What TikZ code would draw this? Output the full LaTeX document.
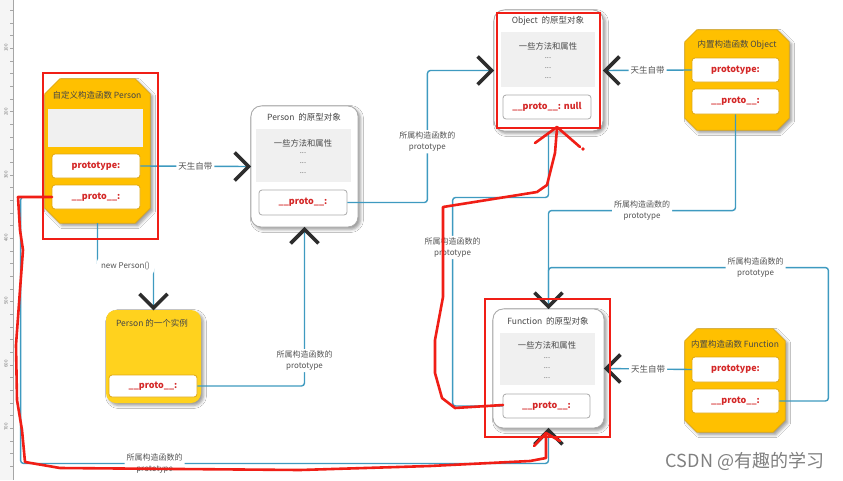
\documentclass[tikz,border=0pt]{standalone}
\usepackage{fontspec}
\setmainfont{Noto Sans CJK SC}
\usetikzlibrary{calc,shadows.blur}
\definecolor{tealc}{RGB}{62,154,192}
\definecolor{chevc}{RGB}{45,45,45}
\definecolor{lblc}{RGB}{85,85,85}
\definecolor{titc}{RGB}{70,70,70}
\definecolor{octy}{RGB}{255,192,0}
\definecolor{octb}{RGB}{222,168,20}
\definecolor{insty}{RGB}{255,210,30}
\definecolor{grayb}{RGB}{170,170,170}
\definecolor{grayf}{RGB}{240,240,240}
\definecolor{redt}{RGB}{212,40,40}
\definecolor{redann}{RGB}{240,30,22}
\tikzset{
 conn/.style={draw=tealc, line width=1.4pt, rounded corners=3pt},
 chevs/.style={draw=chevc, line width=3.6pt},
 lbl/.style={fill=white, text=lblc, font=\fontsize{8}{10.5}\selectfont, align=center, inner sep=2pt},
 wh/.style 2 args={minimum width=#1pt, minimum height=#2pt},
 anchorbox/.style={draw=none, fill=none, inner sep=0pt},
 shad/.style={blur shadow={shadow xshift=2.5pt, shadow yshift=-2.5pt, shadow blur radius=3pt, shadow opacity=40}},
 octs/.style={fill=octy, draw=octb, line width=0.8pt, shad},
 robox/.style={fill=white, draw=grayb, line width=0.9pt, rounded corners=10pt, inner sep=0pt, shad},
 inst/.style={fill=insty, draw=none, rounded corners=10pt, inner sep=0pt, shad},
 grayarea/.style={fill=grayf, draw=none, inner sep=0pt},
 ybox/.style={fill=white, draw=octb, line width=0.8pt, rounded corners=3pt, text=redt, font=\bfseries\fontsize{9}{10}\selectfont, inner sep=0pt},
 gbox/.style={ybox, draw=grayb},
 ttl/.style={text=titc, font=\fontsize{8.5}{10}\selectfont, inner sep=0pt},
 bodyt/.style={text=titc, font=\fontsize{8.3}{10}\selectfont, inner sep=0pt},
 dotst/.style={text=black!55, font=\fontsize{7.5}{8}\selectfont, inner sep=0pt},
 redline/.style={draw=redann, line width=2.6pt, line join=round, line cap=round},
 pics/chev/.style={code={\draw[chevs] (-16,-14) -- (-2,0) -- (-16,14);}},
}
\newcommand\octa[2]{\path[octs] ($(#1.north west)+(#2,0)$) -- ($(#1.north east)+(-#2,0)$) -- ($(#1.north east)+(0,#2)$) -- ($(#1.south east)+(0,-#2)$) -- ($(#1.south east)+(-#2,0)$) -- ($(#1.south west)+(#2,0)$) -- ($(#1.south west)+(0,-#2)$) -- ($(#1.north west)+(0,#2)$) -- cycle;}
\begin{document}
\begin{tikzpicture}[x=1pt,y=-1pt]
\useasboundingbox (0,0) rectangle (843,480);
\fill[white] (0,0) rectangle (843,480);
% ruler
\fill[black!4] (0,0) rectangle (13,480);
\draw[black!35, line width=0.6pt] (13,0) -- (13,480);
\foreach \k in {0,...,38} {\draw[black!35, line width=0.4pt] (10,{-15+12.66*\k}) -- (13,{-15+12.66*\k});}
\foreach \v/\yy in {100/48,200/112,300/175,400/238,500/301,600/364,700/427}
 {\node[rotate=90, text=black!55, font=\fontsize{4.5}{5}\selectfont, inner sep=0pt] (r\v) at (6,\yy) {\v};}

% ---------- Person constructor
\node[anchorbox, wh={105}{144}] (pc) at (97.5,151) {};
\octa{pc}{15}
\node[ttl] (pct) at (97,95.5) {自定义构造函数 Person};
\node[grayarea, wh={95}{38}] (pcg) at (95.5,127.5) {};
\node[ybox, wh={88}{24}] (pcp) at (96,166) {prototype:};
\node[ybox, wh={88}{24}] (pcu) at (96,197) {\_\_proto\_\_:};

% ---------- Person prototype object
\node[robox, wh={107}{121}] (ppo) at (304.5,166.5) {};
\node[ttl] (ppot) at (304,117) {Person\ \ 的原型对象};
\node[grayarea, wh={95}{53}] (ppog) at (303.5,155.5) {};
\node[bodyt] (ppob) at (303,143) {一些方法和属性};
\node[dotst] (ppod1) at (303,153) {...};
\node[dotst] (ppod2) at (303,163) {...};
\node[dotst] (ppod3) at (303,173) {...};
\node[gbox, wh={88}{25}] (ppu) at (303,202.5) {\_\_proto\_\_:};

% ---------- Object prototype object
\node[robox, wh={109}{121}] (opo) at (548.5,70.5) {};
\node[ttl] (opot) at (548,21) {Object\ \ 的原型对象};
\node[grayarea, wh={94}{55}] (opog) at (548,59.5) {};
\node[bodyt] (opob) at (548,46) {一些方法和属性};
\node[dotst] (opod1) at (548,58) {...};
\node[dotst] (opod2) at (548,68) {...};
\node[dotst] (opod3) at (548,78) {...};
\node[gbox, wh={88}{24}] (opu) at (547,107) {\_\_proto\_\_: null};

% ---------- Object constructor
\node[anchorbox, wh={104}{100}] (oc) at (737,80) {};
\octa{oc}{12}
\node[ttl] (oct) at (737,45) {内置构造函数 Object};
\node[ybox, wh={87}{24}] (ocp) at (735.5,70) {prototype:};
\node[ybox, wh={87}{25}] (ocu) at (735.5,101.5) {\_\_proto\_\_:};

% ---------- Function prototype object
\node[robox, wh={111}{119}] (fpo) at (548.5,368.5) {};
\node[ttl] (fpot) at (548,321) {Function\ \ 的原型对象};
\node[grayarea, wh={95}{52}] (fpog) at (547.5,359) {};
\node[bodyt] (fpob) at (547,345) {一些方法和属性};
\node[dotst] (fpod1) at (547,358) {...};
\node[dotst] (fpod2) at (547,368) {...};
\node[dotst] (fpod3) at (547,378) {...};
\node[gbox, wh={87}{24}] (fpu) at (546.5,406) {\_\_proto\_\_:};

% ---------- Function constructor
\node[anchorbox, wh={100}{103}] (fc) at (735,380.5) {};
\octa{fc}{12}
\node[ttl] (fct) at (735,344) {内置构造函数 Function};
\node[ybox, wh={87}{25}] (fcp) at (735.5,369.5) {prototype:};
\node[ybox, wh={87}{24}] (fcu) at (735.5,401) {\_\_proto\_\_:};

% ---------- Person instance
\node[inst, wh={95}{93}] (pi) at (153.5,356.5) {};
\node[ttl] (pit) at (152,323) {Person 的一个实例};
\node[ybox, wh={88}{22}] (piu) at (153,386) {\_\_proto\_\_:};

% ---------- connectors
\draw[conn] (pcp.east) -- node[lbl, font=\fontsize{8.5}{10}\selectfont]{天生自带} (ppo.west);
\pic at (ppo.west) {chev};

\draw[conn] (pc.south) -- ++(0,43) -| node[lbl, pos=0.25, inner sep=4pt]{new Person()} (pi.north);
\pic[rotate=-90] at (pi.north) {chev};

\draw[conn] (piu.east) -| node[lbl, pos=0.58]{所属构造函数的\\prototype} (ppo.south);
\pic[rotate=90] at (ppo.south) {chev};

\draw[conn] (ppu.east) -- ++(80,0) |- node[lbl, pos=0.23]{所属构造函数的\\prototype} (opo.west);
\pic at (opo.west) {chev};

\draw[conn] (ocp.west) -- node[lbl, font=\fontsize{8.5}{10}\selectfont]{天生自带} (opo.east);
\pic[rotate=180] at (opo.east) {chev};

\draw[conn] (ocu.south) |- node[lbl, pos=0.75]{所属构造函数的\\prototype} ($(fpo.north)+(0,-98)$) -- (fpo.north);
\draw[conn] (fcu.east) -- ++(49,0) |- node[lbl, pos=0.63]{所属构造函数的\\prototype} ($(fpo.north)+(0,-41)$) -- (fpo.north);
\pic[rotate=-90] at (fpo.north) {chev};

\draw[conn] (fcp.west) -- node[lbl, font=\fontsize{8.5}{10}\selectfont]{天生自带} (fpo.east);
\pic[rotate=180] at (fpo.east) {chev};

\draw[conn] (fpu.west) -- ++(-50,0) |- node[lbl, pos=0.38]{所属构造函数的\\prototype} ($(opo.south)+(0,66)$) -- (opo.south);

\draw[conn] (pcu.west) -- ++(-31,0) |- node[lbl, pos=0.627]{所属构造函数的\\prototype} ($(fpo.south)+(0,35)$) -- (fpo.south);
\pic[rotate=90] at (fpo.south) {chev};

% ---------- red annotations
\draw[redline, line join=miter] (43,73) rectangle (158,239);
\draw[redline, line join=miter] (497,13) rectangle (600,128);
\draw[redline, line join=miter] (485,299) rectangle (610,437);
\draw[redline] (52,197) -- (18,197) -- (20,230) -- (23,250) -- (20,290) -- (16,345) -- (17,400) -- (22,430) -- (25,462) -- (60,468) -- (300,470) -- (430,466) -- (530,461) -- (546,458) -- (546,433);
\draw[redline] (534,446) -- (546,433) -- (560,441);
\draw[redline] (503,405) -- (455,408) -- (442,398) -- (435,373) -- (435,340) -- (443,297) -- (443,207) -- (537,192) -- (547,185) -- (555,153) -- (557,128);
\draw[redline] (535,143) -- (557,127) -- (580,147);
\fill[redann] (583,149) circle (1.8);

% watermark
\node[text=black!50, font=\fontsize{18}{20}\selectfont, inner sep=0pt] (wm) at (745,461) {CSDN @有趣的学习};
\end{tikzpicture}
\end{document}
